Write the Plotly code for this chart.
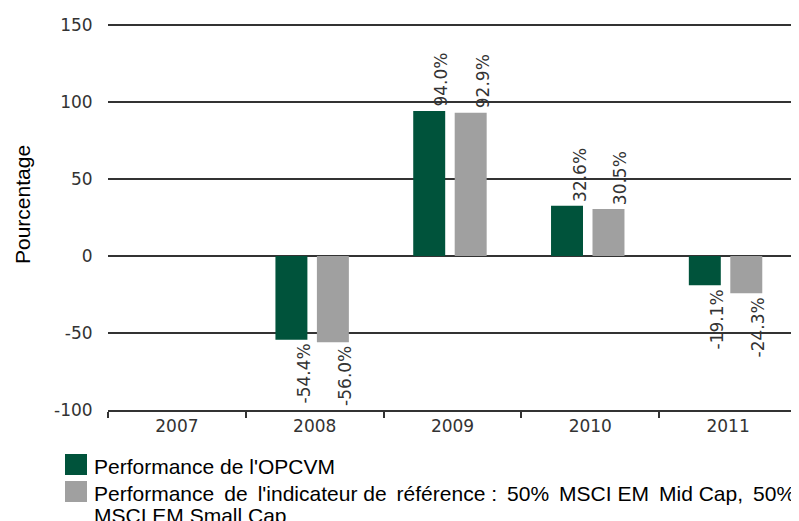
import plotly.graph_objects as go

# ---- data ----
years = ["2007", "2008", "2009", "2010", "2011"]
fund_values = [None, -54.4, 94.0, 32.6, -19.1]
bench_values = [None, -56.0, 92.9, 30.5, -24.3]
series_names = [
    "Performance de l'OPCVM",
    "Performance de l'indicateur de référence : 50% MSCI EM Mid Cap, 50% MSCI EM Small Cap",
]
legend_lines = [
    ["Performance de l'OPCVM"],
    ["Performance de l'indicateur de référence : 50% MSCI EM Mid Cap, 50%", "MSCI EM Small Cap"],
]
y_ticks = [-100, -50, 0, 50, 100, 150]
y_title = "Pourcentage"

# ---- style ----
GREEN = "#00533B"
GRAY = "#A0A0A0"
colors = [GREEN, GRAY]
PAGE = 8  # default body margin of the html page
W, H = 799 - PAGE, 521 - PAGE
PLOT_LEFT, PLOT_BOTTOM = 108, 410  # page pixel coords
Y_MIN, Y_MAX = -100, 155
MT = 9
ML, MR, MB = PLOT_LEFT - PAGE, 2, H - (PLOT_BOTTOM - PAGE)
TICKFONT = dict(family="DejaVu Sans", size=17, color="#333333")
LABELFONT = dict(family="DejaVu Sans", size=17, color="#333333")
LEGFONT = dict(family="Liberation Sans, Arial", size=21, color="#000000")

bar_width = 0.232
offsets = [-0.285, 0.016]
text_shift_px = [-11, 30]
WIDE_GAPS = {0, 1, 3, 5, 6, 8, 10}


def widen(line, justify):
    # emulate justified text with thin spaces on some word gaps
    if not justify:
        return line
    words = line.split(" ")
    out = words[0]
    for k, w in enumerate(words[1:]):
        out += (" \u2009" if k in WIDE_GAPS else " ") + w
    return out


fig = go.Figure()
for name, vals, col, off in zip(series_names, [fund_values, bench_values], colors, offsets):
    fig.add_trace(go.Bar(
        x=years, y=vals, name=name, marker=dict(color=col, line=dict(width=0)),
        width=bar_width, offset=off, showlegend=False,
    ))

# value labels (x given as category index)
for vals, sh in zip([fund_values, bench_values], text_shift_px):
    for idx, v in enumerate(vals):
        if v is None:
            continue
        fig.add_annotation(
            x=idx, y=v, xref="x", yref="y", text=f"{v:.1f}%", showarrow=False,
            textangle=-90, font=LABELFONT, xshift=sh,
            yanchor="bottom" if v >= 0 else "top",
            yshift=2 if v >= 0 else -2,
        )

# y axis title
fig.add_annotation(
    x=0, y=0, xref="paper", yref="paper", text=y_title, showarrow=False,
    textangle=-90, font=dict(family="Liberation Sans, Arial", size=21, color="#000000"),
    xanchor="center", yanchor="middle", xshift=22 - PLOT_LEFT, yshift=PLOT_BOTTOM - 205,
)

# custom legend
sq_tops = [454, 481]
line_tops = [[454], [481, 503]]
for i, (col, lines) in enumerate(zip(colors, legend_lines)):
    top = sq_tops[i]
    fig.add_shape(
        type="rect", xref="paper", yref="paper", xsizemode="pixel", ysizemode="pixel",
        xanchor=0, yanchor=0, x0=65 - PLOT_LEFT, x1=87 - PLOT_LEFT,
        y0=PLOT_BOTTOM - top, y1=PLOT_BOTTOM - (top + 21),
        fillcolor=col, line=dict(width=0),
    )
    for j, txt in enumerate(lines):
        lt = line_tops[i][j]
        fig.add_annotation(
            x=0, y=0, xref="paper", yref="paper",
            text=widen(txt, justify=(len(lines) > 1 and j < len(lines) - 1)),
            showarrow=False,
            xanchor="left", yanchor="top", xshift=94 - PLOT_LEFT - 2,
            yshift=PLOT_BOTTOM - lt + 1, font=LEGFONT, align="left",
        )

fig.update_layout(
    width=W, height=H, margin=dict(l=ML, r=MR, t=MT, b=MB),
    paper_bgcolor="white", plot_bgcolor="white",
    barmode="group", showlegend=False,
    xaxis=dict(
        type="category", categoryorder="array", categoryarray=years,
        showline=True, linecolor="#333333", linewidth=1.5,
        ticks="outside", ticklen=6, tickwidth=1.5, tickcolor="#333333",
        tickson="boundaries", showgrid=False, tickfont=TICKFONT,
        range=[-0.5, 4.5],
    ),
    yaxis=dict(
        range=[Y_MIN, Y_MAX], tickvals=y_ticks, ticktext=[str(t) for t in y_ticks],
        showgrid=True, gridcolor="#333333", gridwidth=1.5,
        zeroline=True, zerolinecolor="#333333", zerolinewidth=1.5,
        showline=False, ticks="outside", ticklen=11, tickcolor="rgba(0,0,0,0)",
        tickfont=TICKFONT,
    ),
)

fig.write_html("out.html")
